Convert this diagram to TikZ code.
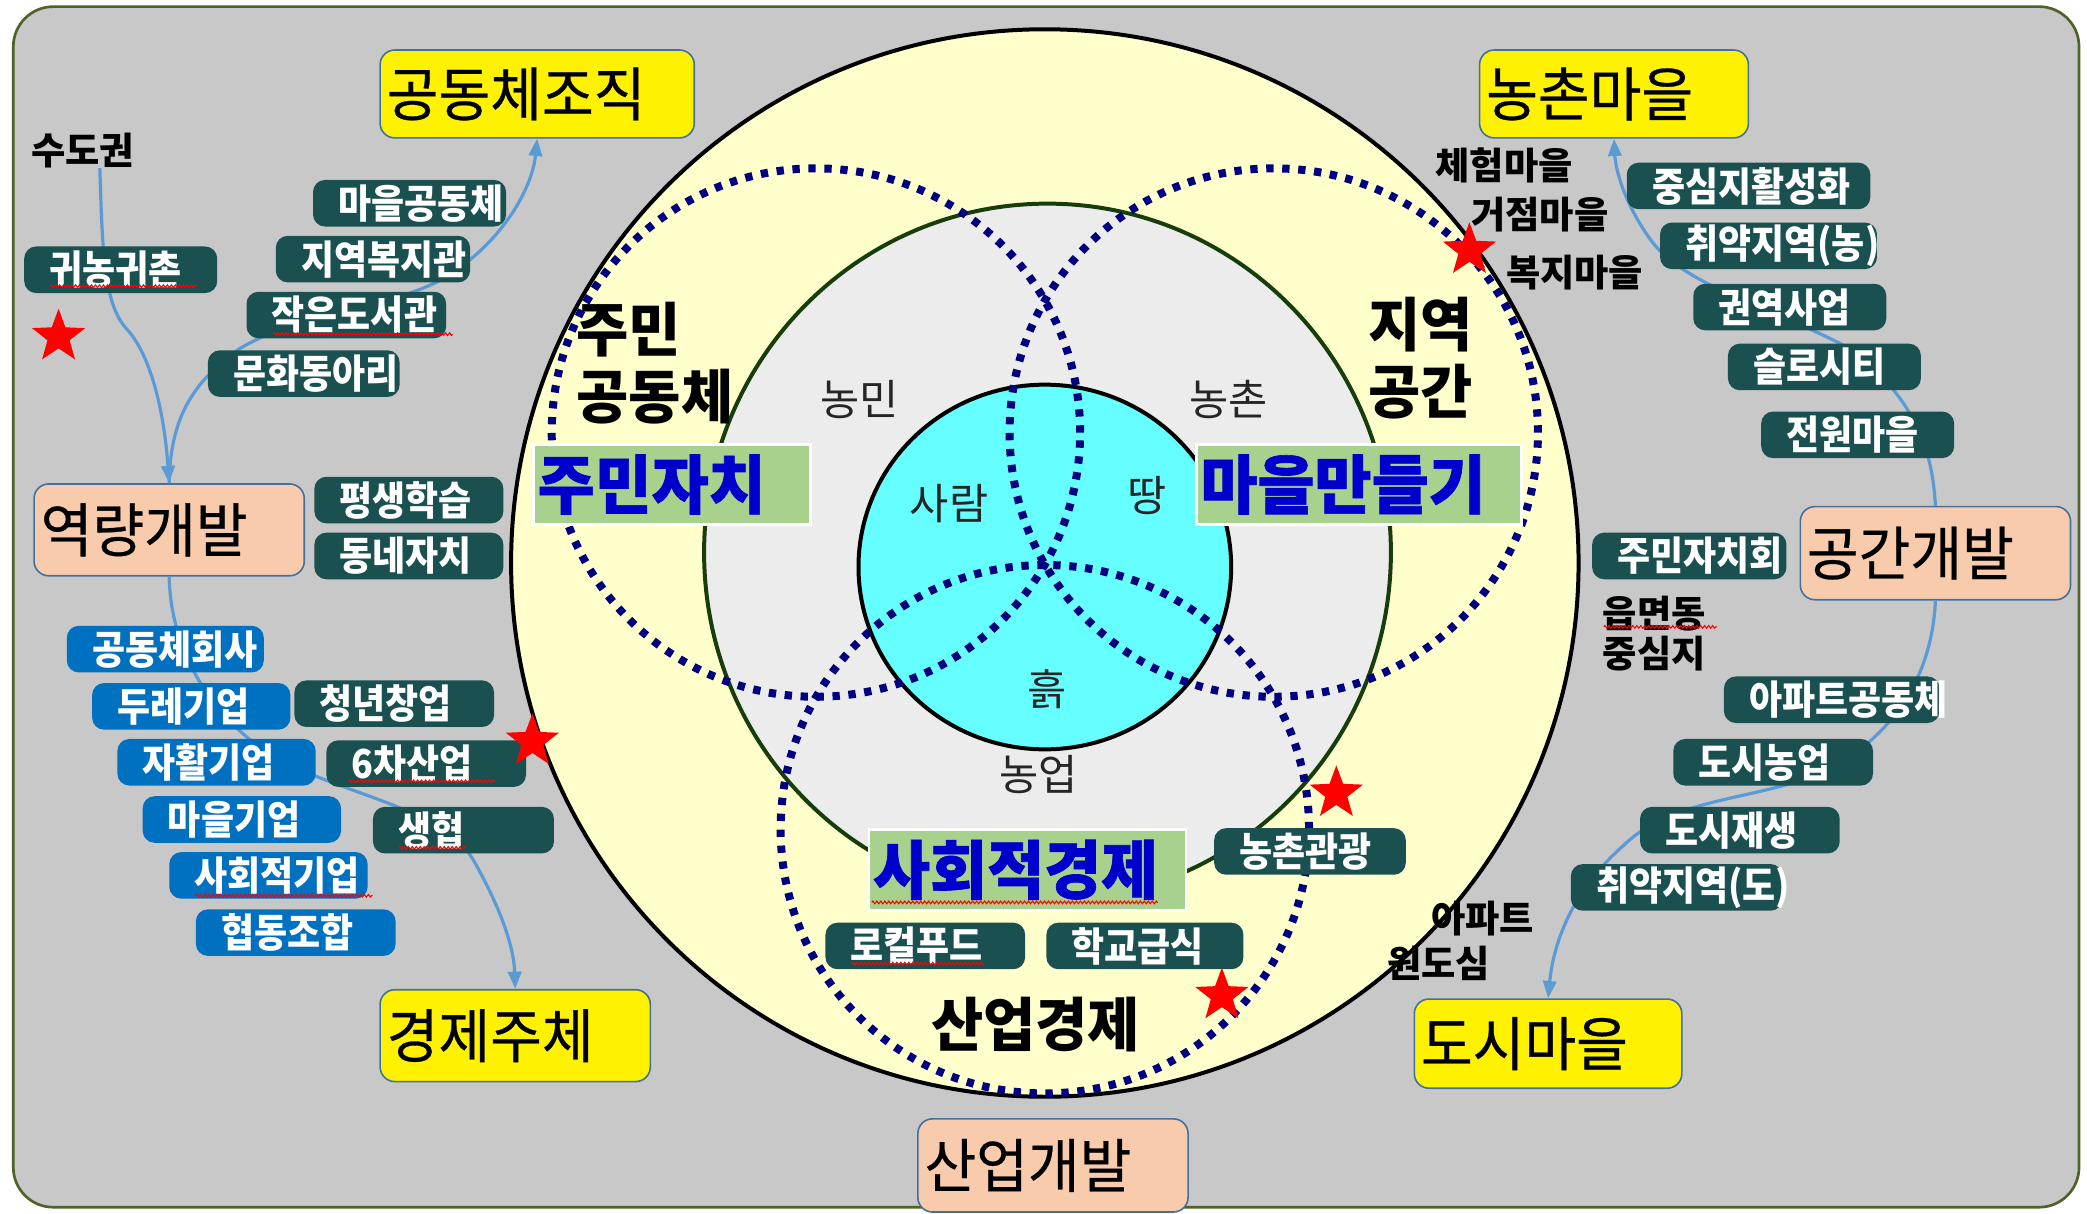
\documentclass[tikz,border=0pt]{standalone}
\usepackage{fontspec}
\usetikzlibrary{shapes.geometric,arrows.meta,decorations.pathmorphing}
\setmainfont{Noto Sans CJK KR}
\newfontfamily\fTeal[FakeStretch=0.9]{Noto Sans CJK KR}
\newfontfamily\fBig[FakeStretch=0.96,FakeBold=0.5]{Noto Sans CJK KR}
\newfontfamily\fHead[FakeStretch=0.97]{Noto Sans CJK KR}
\newfontfamily\fLab[FakeStretch=0.97,FakeBold=1]{Noto Sans CJK KR}
\newfontfamily\fSmall[FakeStretch=1.0]{Noto Sans CJK KR}
\newfontfamily\fThin{Noto Sans CJK KR}
\definecolor{bggray}{HTML}{C8C8C8}
\definecolor{frameg}{HTML}{4F6228}
\definecolor{paleY}{HTML}{FFFFCC}
\definecolor{ringG}{HTML}{ECECEC}
\definecolor{ringE}{HTML}{173D0B}
\definecolor{cyanF}{HTML}{66FFFF}
\definecolor{dotN}{HTML}{000080}
\definecolor{tealF}{HTML}{1A5050}
\definecolor{blueF}{HTML}{0070C0}
\definecolor{labG}{HTML}{A9D18E}
\definecolor{labT}{HTML}{0000CC}
\definecolor{boxE}{HTML}{41719C}
\definecolor{peachF}{HTML}{F8CBAD}
\definecolor{connB}{HTML}{5B9BD5}
\begin{document}
\begin{tikzpicture}[x=1pt,y=-1pt,
  tbox/.style={rectangle, rounded corners=9pt, fill=tealF, text=white,
    font=\fTeal\bfseries\fontsize{30}{32}\selectfont, inner xsep=0pt, inner ysep=0pt,
    minimum height=35pt, align=left, anchor=north west,
    execute at begin node={\hspace*{19pt}}},
  bbox/.style={tbox, fill=blueF},
  bigbox/.style={rectangle, rounded corners=11pt, draw=boxE, line width=1.2pt, text=black,
    font=\fBig\fontsize{44}{48}\selectfont, inner xsep=0pt, inner ysep=0pt,
    align=left, anchor=north west, execute at begin node={\hspace*{5pt}}},
  ybox/.style={bigbox, fill=yellow},
  pbox/.style={bigbox, fill=peachF},
  glab/.style={rectangle, fill=labG, draw=white, line width=2pt, text=labT,
    font=\fLab\bfseries\fontsize{48}{50}\selectfont, inner xsep=0pt, inner ysep=0pt,
    minimum height=60pt, align=left, anchor=north west, execute at begin node={\hspace*{3pt}}},
  headtxt/.style={font=\fHead\bfseries\fontsize{44}{50}\selectfont, inner sep=0pt, align=left, text=black},
  smalltxt/.style={font=\fSmall\bfseries\fontsize{28}{30}\selectfont, inner sep=0pt, align=left, text=black},
  thintxt/.style={font=\fThin\fontsize{32}{34}\selectfont, inner sep=0pt, text=black!85},
  dots/.style={dotN, line width=6pt, dash pattern=on 5.5pt off 6.5pt},
  conn/.style={connB, line width=2.4pt, -{Triangle[length=13pt,width=10pt]}},
  redstar/.style={star, star points=5, star point ratio=2.4, fill=red, draw=none,
    minimum size=42pt, inner sep=0pt},
  squig/.style={red, line width=0.8pt, decorate,
    decoration={zigzag, segment length=3pt, amplitude=1pt}}
]
\useasboundingbox (0,0) rectangle (1568,912);
\fill[white] (0,0) rectangle (1568,912);
\draw[frameg, fill=bggray, line width=2pt, rounded corners=30pt] (10,5) rectangle (1562,907);

% concentric shapes
\draw[black, line width=3pt, fill=paleY] (785,423) circle[radius=401pt];
\draw[ringE, line width=3pt, fill=ringG] (787,415) ellipse[x radius=258pt, y radius=262pt];
\draw[black, line width=3pt, fill=cyanF] (785,426) ellipse[x radius=140pt, y radius=137pt];

% dotted venn circles
\draw[dots] (613,325) circle[radius=198.5pt];
\draw[dots] (957,325) circle[radius=198.5pt];
\draw[dots] (785,623) circle[radius=198.5pt];

% inner texts
\node[headtxt, anchor=west] (jumin) at (433,273) {주민\\공동체};
\node[headtxt, anchor=west] (jiyeok) at (1028,269) {지역\\공간};
\node[headtxt] (saneop) at (778,770) {산업경제};
\node[thintxt] (nongmin) at (646,300) {농민};
\node[thintxt] (nongchon2) at (923,300) {농촌};
\node[thintxt] (saram) at (713,378) {사람};
\node[thintxt] (ttang) at (862,372) {땅};
\node[thintxt] (heuk) at (787,518) {흙};
\node[thintxt] (nongeop) at (780,582) {농업};

% green labels
\node[glab, text width=208pt] (jachi) at (400,333) {주민자치};
\node[glab, text width=244pt] (maeul) at (898,333) {마을만들기};
\node[glab, text width=238pt, minimum height=61pt] (sahoe) at (652,622) {사회적경제};

% small black texts
\node[smalltxt] (sudo) at (62,113) {수도권};
\node[smalltxt] (cheheom) at (1130,124) {체험마을};
\node[smalltxt] (geojeom) at (1157,161) {거점마을};
\node[smalltxt] (bokji) at (1183,205) {복지마을};
\node[smalltxt, anchor=west] (eup) at (1204,476) {읍면동\\중심지};
\node[smalltxt] (apt) at (1114,690) {아파트};
\node[smalltxt] (wondo) at (1081,724) {원도심};

% big boxes
\node[ybox, text width=236pt, minimum height=66pt] (gong) at (285,37) {공동체조직};
\node[ybox, text width=202pt, minimum height=66pt] (nongchon) at (1111,37) {농촌마을};
\node[ybox, text width=203pt, minimum height=69pt] (gyeong) at (285,743) {경제주체};
\node[ybox, text width=201pt, minimum height=67pt] (dosi) at (1062,750) {도시마을};
\node[pbox, text width=203pt, minimum height=69pt] (yeok) at (25,363) {역량개발};
\node[pbox, text width=203pt, minimum height=70pt] (gonggan) at (1352,380) {공간개발};
\node[pbox, text width=203pt, minimum height=70pt] (sandev) at (689,840) {산업개발};

% connectors
\draw[conn] ([xshift=13pt]sudo.south) .. controls (77,190) and (78,228) .. (95,247)
   .. controls (112,265) and (123,305) .. (yeok.north);
\draw[conn] (yeok.north) .. controls (128,320) and (140,290) .. (180,262)
   .. controls (230,232) and (300,232) .. (340,205)
   .. controls (380,178) and (400,140) .. (gong.south);
\draw[conn] (yeok.south) .. controls (128,480) and (150,530) .. (200,565)
   .. controls (250,596) and (330,605) .. (355,645)
   .. controls (375,680) and (386,710) .. (gyeong.north);
\draw[conn] (gonggan.north) .. controls (1452,340) and (1440,300) .. (1390,262)
   .. controls (1330,230) and (1265,215) .. (1240,180)
   .. controls (1222,155) and (1214,130) .. (nongchon.south);
\draw[conn] (gonggan.south) .. controls (1452,500) and (1430,545) .. (1380,575)
   .. controls (1330,602) and (1260,596) .. (1220,635)
   .. controls (1180,670) and (1167,710) .. (dosi.north);

% teal boxes left
\node[tbox, text width=145pt] (t1) at (235,135) {마을공동체};
\node[tbox, text width=146pt] (t2) at (207,177) {지역복지관};
\node[tbox, text width=150pt] (t3) at (185,219) {작은도서관};
\node[tbox, text width=144pt] (t4) at (156,263) {문화동아리};
\node[tbox, text width=145pt] (t5) at (18,185) {귀농귀촌};
\node[tbox, text width=142pt] (t6) at (236,358) {평생학습};
\node[tbox, text width=142pt] (t7) at (236,400) {동네자치};
\node[tbox, text width=150pt] (t8) at (221,511) {청년창업};
\node[tbox, text width=150pt] (t9) at (245,556) {6차산업};
\node[tbox, text width=136pt] (t10) at (280,606) {생협};
% blue boxes
\node[bbox, text width=148pt] (b1) at (50,470) {공동체회사};
\node[bbox, text width=149pt] (b2) at (69,513) {두레기업};
\node[bbox, text width=149pt] (b3) at (88,555) {자활기업};
\node[bbox, text width=149pt] (b4) at (107,598) {마을기업};
\node[bbox, text width=149pt] (b5) at (127,640) {사회적기업};
\node[bbox, text width=150pt] (b6) at (147,683) {협동조합};
% teal boxes right
\node[tbox, text width=183pt] (r1) at (1222,122) {중심지활성화};
\node[tbox, text width=163pt] (r2) at (1247,167) {취약지역(농)};
\node[tbox, text width=145pt] (r3) at (1272,213) {권역사업};
\node[tbox, text width=145pt] (r4) at (1298,258) {슬로시티};
\node[tbox, text width=145pt] (r5) at (1323,309) {전원마을};
\node[tbox, text width=146pt] (r6) at (1196,400) {주민자치회};
\node[tbox, text width=162pt] (r7) at (1295,508) {아파트공동체};
\node[tbox, text width=150pt] (r8) at (1257,555) {도시농업};
\node[tbox, text width=150pt] (r9) at (1232,606) {도시재생};
\node[tbox, text width=159pt] (r10) at (1180,649) {취약지역(도)};
% teal boxes centre
\node[tbox, text width=144pt] (c1) at (912,622) {농촌관광};
\node[tbox, text width=150pt] (c2) at (620,693) {로컬푸드};
\node[tbox, text width=148pt] (c3) at (786,693) {학교급식};

% stars
\node[redstar] (s1) at (44,253) {};
\node[redstar] (s2) at (1104,188) {};
\node[redstar] (s3) at (400,557) {};
\node[redstar] (s4) at (1004,596) {};
\node[redstar] (s5) at (918,748) {};

% spell-check squiggles
\draw[squig] (38,215) -- (148,215);
\draw[squig] (205,251) -- (340,251);
\draw[squig] (262,587) -- (372,587);
\draw[squig] (300,637) -- (350,637);
\draw[squig] (147,673) -- (280,673);
\draw[squig] (655,678) -- (870,678);
\draw[squig] (640,724) -- (740,724);
\draw[squig] (1205,471) -- (1290,471);
\end{tikzpicture}
\end{document}
